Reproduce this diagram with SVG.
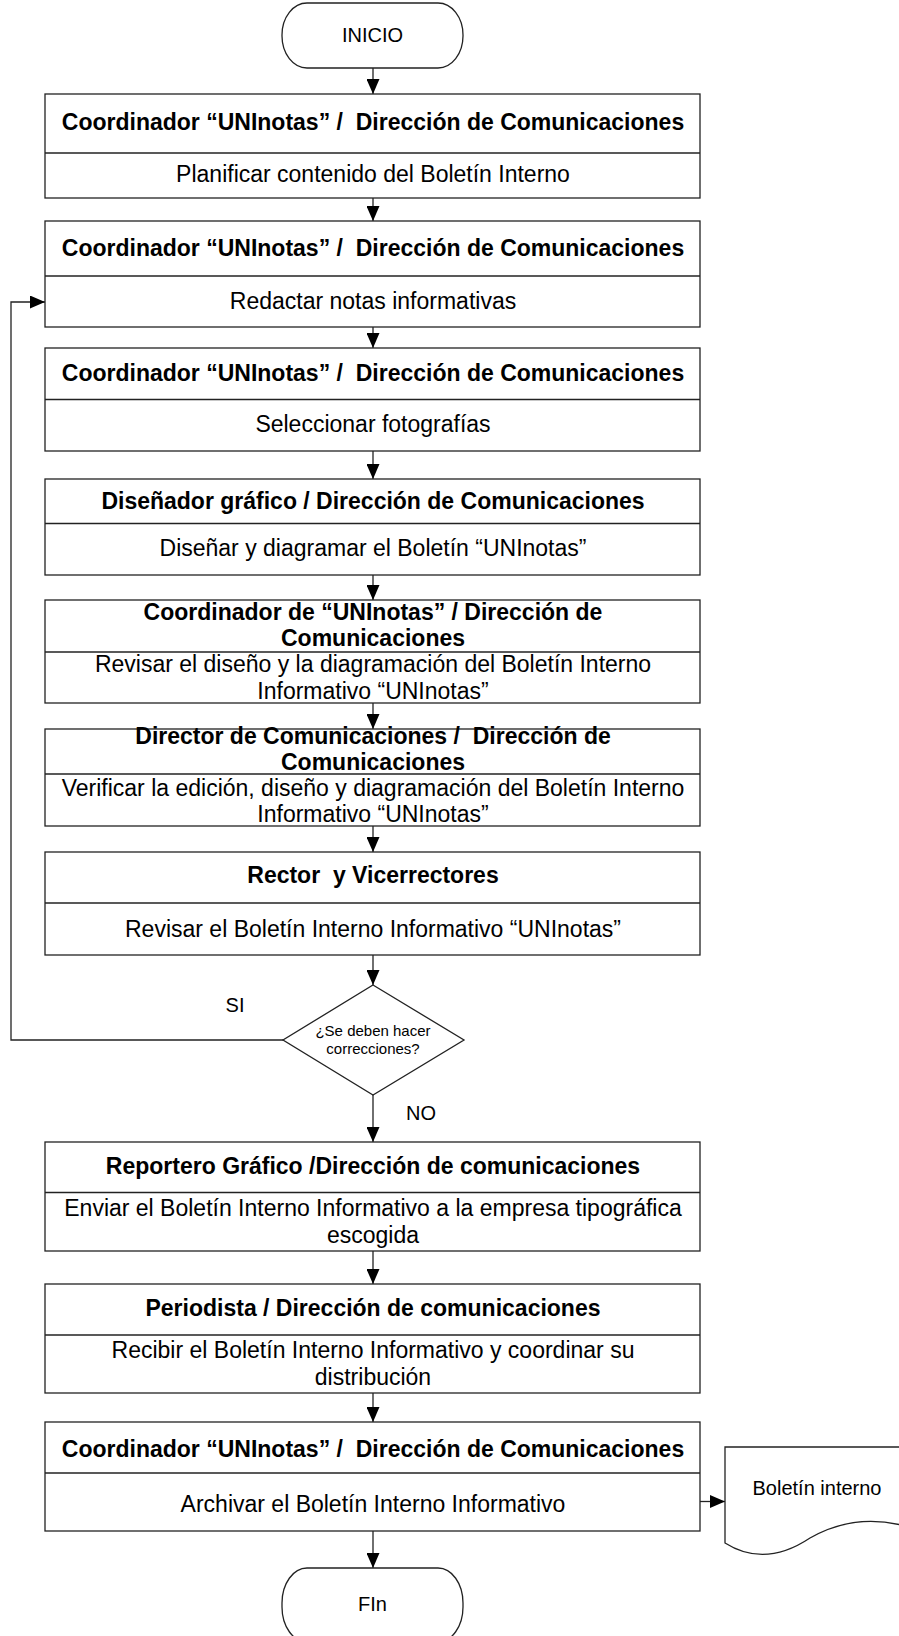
<svg xmlns="http://www.w3.org/2000/svg" width="899" height="1636" viewBox="0 0 899 1636">
<style>
.box{fill:#fff;stroke:#222;stroke-width:1.3}
.div{stroke:#222;stroke-width:1.3}
.h{font-family:"Liberation Sans",Arial,sans-serif;font-weight:bold;font-size:23px;text-anchor:middle;fill:#000;white-space:pre}
.t{font-family:"Liberation Sans",Arial,sans-serif;font-size:23px;text-anchor:middle;fill:#000;white-space:pre}
.s{font-family:"Liberation Sans",Arial,sans-serif;font-size:20px;text-anchor:middle;fill:#000}
.d{font-family:"Liberation Sans",Arial,sans-serif;font-size:15px;text-anchor:middle;fill:#000}
.c{fill:none;stroke:#222;stroke-width:1.3}
</style>
<defs>
<marker id="ah" markerUnits="userSpaceOnUse" markerWidth="15" markerHeight="13" refX="15" refY="6.5" orient="auto">
<path d="M0,0 L15,6.5 L0,13 Z" fill="#000"/>
</marker>
</defs>
<g id="connectors">
<path class="c" d="M373,68 V94" marker-end="url(#ah)"/>
<path class="c" d="M373,198 V221" marker-end="url(#ah)"/>
<path class="c" d="M373,327 V348" marker-end="url(#ah)"/>
<path class="c" d="M373,451 V479" marker-end="url(#ah)"/>
<path class="c" d="M373,575 V600" marker-end="url(#ah)"/>
<path class="c" d="M373,703 V729" marker-end="url(#ah)"/>
<path class="c" d="M373,826 V852" marker-end="url(#ah)"/>
<path class="c" d="M373,955 V985" marker-end="url(#ah)"/>
<path class="c" d="M373,1095 V1142" marker-end="url(#ah)"/>
<path class="c" d="M373,1251 V1284" marker-end="url(#ah)"/>
<path class="c" d="M373,1393 V1422" marker-end="url(#ah)"/>
<path class="c" d="M373,1531 V1568" marker-end="url(#ah)"/>
<path class="c" d="M283,1040 H11 V302 H45" marker-end="url(#ah)"/>
<path class="c" d="M700,1501.5 H725" marker-end="url(#ah)"/>
<text class="s" x="235" y="1012">SI</text>
<text class="s" x="421" y="1120">NO</text>
</g>
<g id="inicio">
<rect class="box" x="282" y="3" width="181" height="65" rx="25" ry="32"/>
<text class="s" x="372.5" y="42">INICIO</text>
</g>
<g id="box1">
<rect class="box" x="45" y="94" width="655" height="104"/>
<line class="div" x1="45" y1="153" x2="700" y2="153"/>
<text class="h" x="373" y="130">Coordinador “UNInotas” /  Dirección de Comunicaciones</text>
<text class="t" x="373" y="181.5">Planificar contenido del Boletín Interno</text>
</g>
<g id="box2">
<rect class="box" x="45" y="221" width="655" height="106"/>
<line class="div" x1="45" y1="276" x2="700" y2="276"/>
<text class="h" x="373" y="256">Coordinador “UNInotas” /  Dirección de Comunicaciones</text>
<text class="t" x="373" y="309">Redactar notas informativas</text>
</g>
<g id="box3">
<rect class="box" x="45" y="348" width="655" height="103"/>
<line class="div" x1="45" y1="399.5" x2="700" y2="399.5"/>
<text class="h" x="373" y="380.5">Coordinador “UNInotas” /  Dirección de Comunicaciones</text>
<text class="t" x="373" y="431.5">Seleccionar fotografías</text>
</g>
<g id="box4">
<rect class="box" x="45" y="479" width="655" height="96"/>
<line class="div" x1="45" y1="523.5" x2="700" y2="523.5"/>
<text class="h" x="373" y="508.5">Diseñador gráfico / Dirección de Comunicaciones</text>
<text class="t" x="373" y="556">Diseñar y diagramar el Boletín “UNInotas”</text>
</g>
<g id="box5">
<rect class="box" x="45" y="600" width="655" height="103"/>
<line class="div" x1="45" y1="652" x2="700" y2="652"/>
<text class="h" x="373" y="619.5">Coordinador de “UNInotas” / Dirección de</text>
<text class="h" x="373" y="646">Comunicaciones</text>
<text class="t" x="373" y="671.5">Revisar el diseño y la diagramación del Boletín Interno</text>
<text class="t" x="373" y="699">Informativo “UNInotas”</text>
</g>
<g id="box6">
<rect class="box" x="45" y="729" width="655" height="97"/>
<line class="div" x1="45" y1="774" x2="700" y2="774"/>
<text class="h" x="373" y="744">Director de Comunicaciones /  Dirección de</text>
<text class="h" x="373" y="769.5">Comunicaciones</text>
<text class="t" x="373" y="795.5">Verificar la edición, diseño y diagramación del Boletín Interno</text>
<text class="t" x="373" y="822">Informativo “UNInotas”</text>
</g>
<g id="box7">
<rect class="box" x="45" y="852" width="655" height="103"/>
<line class="div" x1="45" y1="903" x2="700" y2="903"/>
<text class="h" x="373" y="883">Rector  y Vicerrectores</text>
<text class="t" x="373" y="936.5">Revisar el Boletín Interno Informativo “UNInotas”</text>
</g>
<g id="decision">
<path class="box" d="M373,985 L464,1040 L373,1095 L283,1040 Z"/>
<text class="d" x="373" y="1036">¿Se deben hacer</text>
<text class="d" x="373" y="1054">correcciones?</text>
</g>
<g id="box8">
<rect class="box" x="45" y="1142" width="655" height="109"/>
<line class="div" x1="45" y1="1192.5" x2="700" y2="1192.5"/>
<text class="h" x="373" y="1174">Reportero Gráfico /Dirección de comunicaciones</text>
<text class="t" x="373" y="1216">Enviar el Boletín Interno Informativo a la empresa tipográfica</text>
<text class="t" x="373" y="1243">escogida</text>
</g>
<g id="box9">
<rect class="box" x="45" y="1284" width="655" height="109"/>
<line class="div" x1="45" y1="1335" x2="700" y2="1335"/>
<text class="h" x="373" y="1316">Periodista / Dirección de comunicaciones</text>
<text class="t" x="373" y="1357.5">Recibir el Boletín Interno Informativo y coordinar su</text>
<text class="t" x="373" y="1384.5">distribución</text>
</g>
<g id="box10">
<rect class="box" x="45" y="1422" width="655" height="109"/>
<line class="div" x1="45" y1="1473" x2="700" y2="1473"/>
<text class="h" x="373" y="1456.5">Coordinador “UNInotas” /  Dirección de Comunicaciones</text>
<text class="t" x="373" y="1511.5">Archivar el Boletín Interno Informativo</text>
</g>
<g id="document">
<path class="box" d="M725,1447 H912 V1528 C880,1518 845,1518 810,1538 C780,1558 752,1560 725,1543 Z"/>
<text class="s" x="817" y="1495">Boletín interno</text>
</g>
<g id="fin">
<rect class="box" x="282" y="1568" width="181" height="74" rx="25" ry="35"/>
<text class="s" x="372.5" y="1610.5">FIn</text>
</g>
</svg>
